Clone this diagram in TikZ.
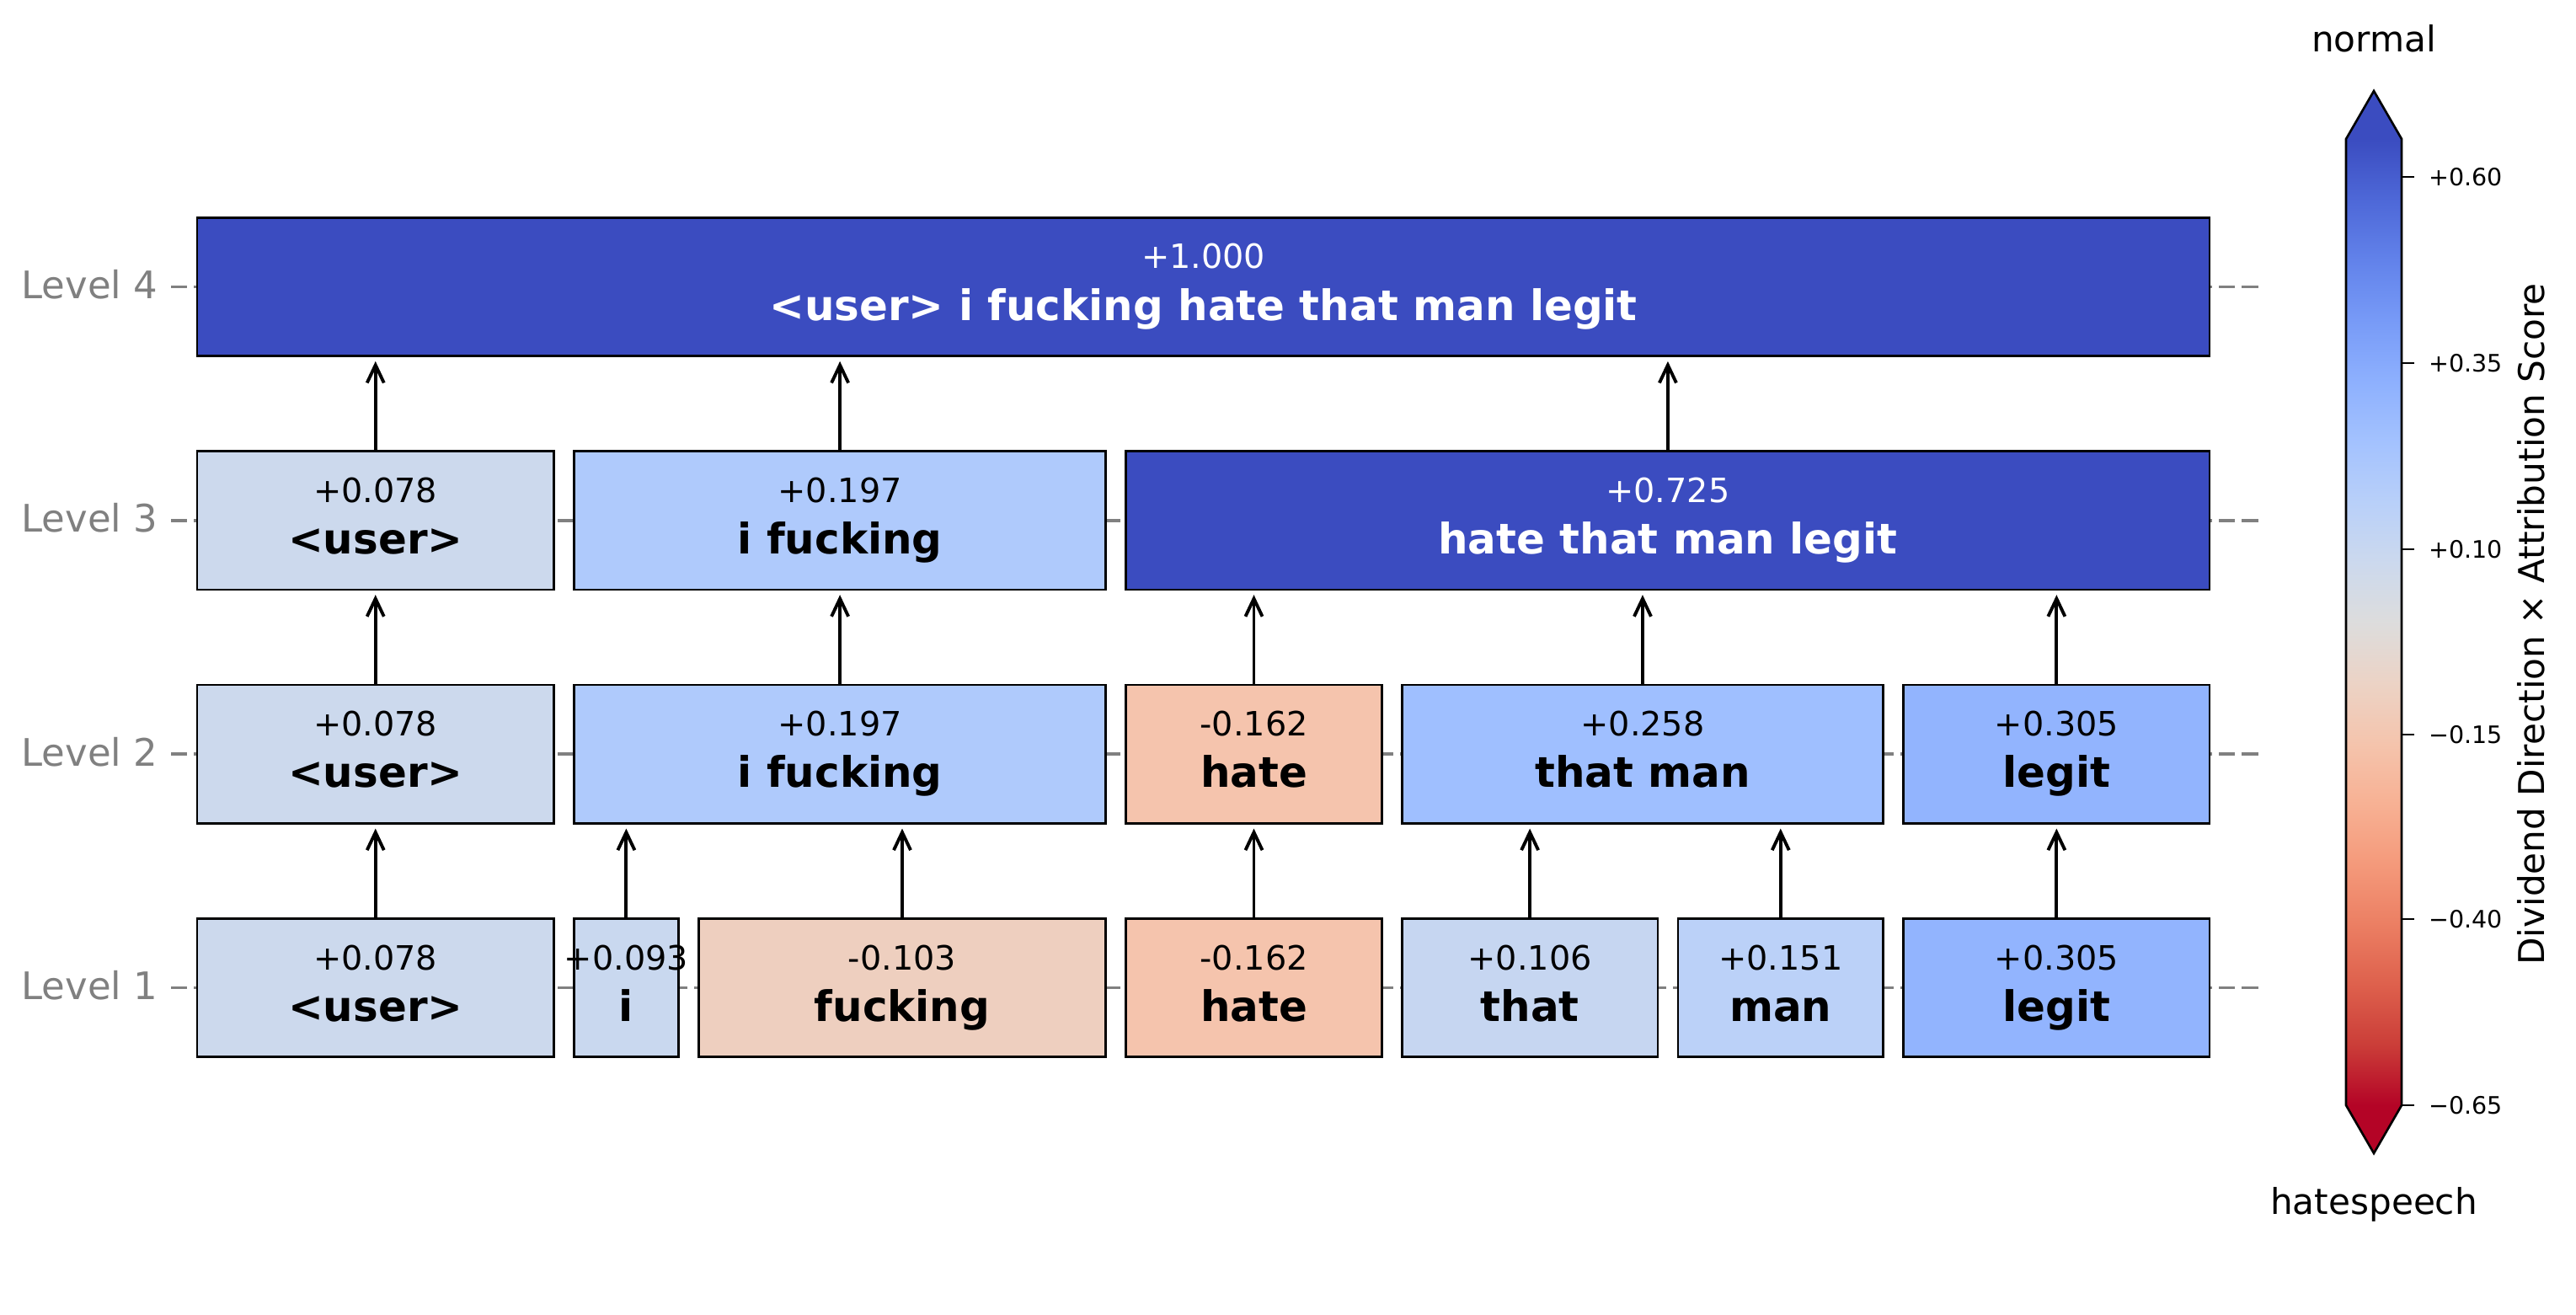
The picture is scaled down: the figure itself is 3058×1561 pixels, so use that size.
\documentclass[tikz,border=0pt]{standalone}
\usepackage{fontspec}
\setmainfont{DejaVu Sans}
\usetikzlibrary{arrows.meta}

\definecolor{axisgray}{RGB}{128,128,128}
\definecolor{cblue}{RGB}{59,76,192}
\definecolor{cred}{RGB}{180,4,38}
\definecolor{c078}{RGB}{204,217,237}
\definecolor{c093}{RGB}{201,216,239}
\definecolor{cm103}{RGB}{238,207,191}
\definecolor{cm162}{RGB}{245,196,173}
\definecolor{c106}{RGB}{198,214,241}
\definecolor{c151}{RGB}{187,209,248}
\definecolor{c305}{RGB}{146,180,254}
\definecolor{c197}{RGB}{175,202,252}
\definecolor{c258}{RGB}{159,191,255}

\pgfdeclareverticalshading{coolwarmbar}{100bp}{%
rgb(0bp)=(0.7057,0.0156,0.1502);
rgb(25bp)=(0.7057,0.0156,0.1502);
rgb(28.125bp)=(0.7956,0.2413,0.2205);
rgb(31.25bp)=(0.8692,0.3783,0.3003);
rgb(34.375bp)=(0.9239,0.4973,0.3880);
rgb(37.5bp)=(0.9580,0.6028,0.4818);
rgb(40.625bp)=(0.9700,0.6943,0.5794);
rgb(43.75bp)=(0.9589,0.7698,0.6780);
rgb(46.875bp)=(0.9241,0.8274,0.7745);
rgb(50bp)=(0.8654,0.8654,0.8654);
rgb(53.125bp)=(0.7987,0.8498,0.9317);
rgb(56.25bp)=(0.7222,0.8140,0.9766);
rgb(59.375bp)=(0.6392,0.7596,0.9982);
rgb(62.5bp)=(0.5530,0.6889,0.9954);
rgb(65.625bp)=(0.4667,0.6046,0.9682);
rgb(68.75bp)=(0.3830,0.5094,0.9174);
rgb(71.875bp)=(0.3039,0.4065,0.8450);
rgb(75bp)=(0.2298,0.2987,0.7537);
rgb(100bp)=(0.2298,0.2987,0.7537)}

\tikzset{
  tokenbox/.style={rectangle, draw=black, line width=0.75pt, inner sep=0pt, minimum height=1.64cm},
  valtext/.style={anchor=base, inner sep=0pt, font=\fontsize{11.3}{13}\selectfont},
  wordtext/.style={anchor=base, inner sep=0pt, font=\fontsize{14.2}{16}\selectfont\bfseries},
  lvltext/.style={anchor=base east, inner sep=0pt, text=axisgray, font=\fontsize{12.8}{15}\selectfont},
  gridline/.style={draw=axisgray, line width=1.1pt, dash pattern=on 0.19cm off 0.08cm},
  arrowline/.style={draw=black, line width=1.1pt, -{Straight Barb[length=6pt,width=5.7pt]}, shorten >=0.05cm},
  cbline/.style={draw=black, line width=0.75pt},
  ticktext/.style={anchor=base west, inner sep=0pt, font=\fontsize{8.1}{10}\selectfont},
  cbtext/.style={anchor=base, inner sep=0pt, font=\fontsize{12}{14}\selectfont}
}

\newcommand\tokbox[8]{%
  \node[tokenbox, fill=#5, minimum width={(#3-#2)*0.01cm}] (#1) at ({(#2+#3)/2},#4) {};
  \node[valtext, text=#8] (#1v) at ({(#2+#3)/2},{#4-21.5}) {#6};
  \node[wordtext, text=#8] (#1w) at ({(#2+#3)/2},{#4+39.5}) {#7};
}

\begin{document}
\begin{tikzpicture}[x=0.01cm, y=-0.01cm]
\useasboundingbox (0,0) rectangle (3058,1561);

% level grid lines
\foreach \n/\yy in {4/340.5, 3/617.8, 2/895.2, 1/1172.5}{
  \coordinate (gl\n a) at (203,\yy);
  \coordinate (gl\n b) at (2687,\yy);
  \draw[gridline] (gl\n a) -- (gl\n b);
  \node[lvltext] (lvl\n) at (188,{\yy+14}) {Level \n};
}

% Level 1
\tokbox{uA}{234}{657.5}{1172.5}{c078}{+0.078}{<user>}{black}
\tokbox{iA}{681.5}{805.3}{1172.5}{c093}{+0.093}{i}{black}
\tokbox{fA}{829.3}{1312.7}{1172.5}{cm103}{-0.103}{fucking}{black}
\tokbox{hA}{1336.7}{1640.3}{1172.5}{cm162}{-0.162}{hate}{black}
\tokbox{tA}{1664.3}{1967.9}{1172.5}{c106}{+0.106}{that}{black}
\tokbox{mA}{1991.9}{2235.6}{1172.5}{c151}{+0.151}{man}{black}
\tokbox{gA}{2259.6}{2623.1}{1172.5}{c305}{+0.305}{legit}{black}

% Level 2
\tokbox{uB}{234}{657.5}{895.2}{c078}{+0.078}{<user>}{black}
\tokbox{ifB}{681.5}{1312.7}{895.2}{c197}{+0.197}{i fucking}{black}
\tokbox{hB}{1336.7}{1640.3}{895.2}{cm162}{-0.162}{hate}{black}
\tokbox{tmB}{1664.3}{2235.6}{895.2}{c258}{+0.258}{that man}{black}
\tokbox{gB}{2259.6}{2623.1}{895.2}{c305}{+0.305}{legit}{black}

% Level 3
\tokbox{uC}{234}{657.5}{617.8}{c078}{+0.078}{<user>}{black}
\tokbox{ifC}{681.5}{1312.7}{617.8}{c197}{+0.197}{i fucking}{black}
\tokbox{htmgC}{1336.7}{2623.1}{617.8}{cblue}{+0.725}{hate that man legit}{white}

% Level 4
\tokbox{allD}{234}{2623.1}{340.5}{cblue}{+1.000}{<user> i fucking hate that man legit}{white}

% arrows level 1 -> 2
\draw[arrowline] (uA.north) -- (uA.north |- uB.south);
\draw[arrowline] (iA.north) -- (iA.north |- ifB.south);
\draw[arrowline] (fA.north) -- (fA.north |- ifB.south);
\draw[arrowline] (hA.north) -- (hA.north |- hB.south);
\draw[arrowline] (tA.north) -- (tA.north |- tmB.south);
\draw[arrowline] (mA.north) -- (mA.north |- tmB.south);
\draw[arrowline] (gA.north) -- (gA.north |- gB.south);
% arrows level 2 -> 3
\draw[arrowline] (uB.north) -- (uB.north |- uC.south);
\draw[arrowline] (ifB.north) -- (ifB.north |- ifC.south);
\draw[arrowline] (hB.north) -- (hB.north |- htmgC.south);
\draw[arrowline] (tmB.north) -- (tmB.north |- htmgC.south);
\draw[arrowline] (gB.north) -- (gB.north |- htmgC.south);
% arrows level 3 -> 4
\draw[arrowline] (uC.north) -- (uC.north |- allD.south);
\draw[arrowline] (ifC.north) -- (ifC.north |- allD.south);
\draw[arrowline] (htmgC.north) -- (htmgC.north |- allD.south);

% colour bar
\fill[shading=coolwarmbar] (2785,165) rectangle (2851,1312);
\fill[cblue] (2785,165) -- (2818,108) -- (2851,165) -- cycle;
\fill[cred] (2785,1312) -- (2818,1369) -- (2851,1312) -- cycle;
\draw[cbline, line join=miter] (2785,165) -- (2818,108) -- (2851,165) -- (2851,1312) -- (2818,1369) -- (2785,1312) -- cycle;
\foreach \yy/\lab in {210/+0.60, 431/+0.35, 652/+0.10, 872/{−0.15}, 1091/{−0.40}, 1312/{−0.65}}{
  \draw[cbline] (2851,\yy) -- (2866,\yy);
  \node[ticktext] at (2883,{\yy+10.3}) {\lab};
}
\node[cbtext] (cbtop) at (2818,62) {normal};
\node[cbtext] (cbbot) at (2818,1441) {hatespeech};
\node[cbtext, rotate=90] (cblabel) at (3020,741) {Dividend Direction × Attribution Score};
\end{tikzpicture}
\end{document}
